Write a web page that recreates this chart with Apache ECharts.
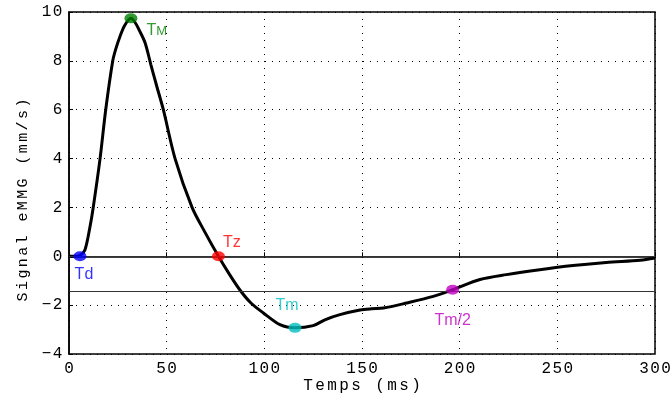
<!DOCTYPE html>
<html><head><meta charset="utf-8">
<script src="https://cdn.jsdelivr.net/npm/echarts@6/dist/echarts.min.js"></script>
<style>html,body{margin:0;padding:0;background:#fff}#c{width:672px;height:396px}</style>
</head><body><div id="c"></div>
<script>
var times = [0,3,5.6,8.2,10.8,12.4,15.9,18.8,22.4,24,26.1,28.5,31.7,34,36,38.9,41.9,44.9,48.3,54.3,63,69.5,76.5,82,87.6,93,99.5,108,115.7,125,131,138.7,149,155,161,172.9,186.5,196.4,210.4,224,241,258,275,292.4,300];
var signal = [0,0,0.03,0.27,1.23,2.0,4.0,6.0,8.0,8.5,9.0,9.45,9.74,9.55,9.25,8.75,7.85,6.97,6.0,4.0,2.0,1.0,0,-0.72,-1.39,-1.9,-2.32,-2.8,-2.93,-2.84,-2.6,-2.39,-2.2,-2.15,-2.12,-1.91,-1.64,-1.37,-0.95,-0.75,-0.55,-0.38,-0.25,-0.16,-0.07];
var keyNames = ['Td','TM','Tz','Tm','Tm/2'];
var keyTimes = [5.6,31.7,76.5,115.7,196.4];
var keyValues = [0,9.74,0,-2.93,-1.37];
var keyColors = ['#0000ff','#008000','#ff0000','#00bfbf','#bf00bf'];
var refLines = [0,-1.42];
var xTicks = [0,50,100,150,200,250,300];
var yTicks = [-4,-2,0,2,4,6,8,10];
var xName = 'Temps (ms)';
var yName = 'Signal eMMG (mm/s)';

function spaced(s){
  return s.split('').map(function(ch){return '{c|'+ch+'}';}).join('');
}

var labelPos = {
  'Td': {position:'bottom', offset:[4,0]},
  'TM': {position:'right', offset:[4,12]},
  'Tz': {position:'right', offset:[-7,-14]},
  'Tm': {position:'top', offset:[-8,-4]},
  'Tm/2': {position:'bottom', offset:[0,13]}
};

var curve = times.map(function(t,i){return [t, signal[i]];});
var keySeries = keyNames.map(function(n,i){
  var lp = labelPos[n];
  var txt = n === 'TM' ? '{a|T}{b|M}' : n;
  return {
    type:'scatter', name:n, z:5,
    data:[[keyTimes[i], keyValues[i]]],
    symbol:'circle', symbolSize:[13,10],
    itemStyle:{color:keyColors[i]},
    label:{show:true, formatter:txt, position:lp.position, offset:lp.offset,
      color:keyColors[i], fontFamily:'Liberation Sans', fontSize:16,
      rich:{a:{color:keyColors[i], fontFamily:'Liberation Sans', fontSize:16},
            b:{color:keyColors[i], fontFamily:'Liberation Sans', fontSize:13, verticalAlign:'bottom'}}}
  };
});

var tickRich = {c:{fontFamily:'Liberation Mono', fontSize:16, color:'#000', padding:[0,0.7,0,0.7]}};

var chart = echarts.init(document.getElementById('c'));
chart.setOption({
  animation:false,
  grid:{left:69, right:17, top:12, bottom:42, containLabel:false, outerBoundsMode:'none',
    show:true, borderColor:'#000', borderWidth:1.5, backgroundColor:'transparent'},
  xAxis:{type:'value', min:0, max:300, interval:50,
    name:spaced(xName), nameLocation:'middle', nameGap:24, nameMoveOverlap:false,
    nameTextStyle:{fontFamily:'Liberation Mono', fontSize:16, color:'#000',
      rich:{c:{fontFamily:'Liberation Mono', fontSize:16, color:'#000', padding:[0,1.2,0,1.2]}}},
    axisLine:{show:true, lineStyle:{color:'#000', width:1.5}},
    axisTick:{show:true, inside:true, length:4, lineStyle:{color:'#000'}},
    axisLabel:{fontFamily:'Liberation Mono', fontSize:16, color:'#000', margin:7, rich:tickRich,
      formatter:function(v){return xTicks.indexOf(v)>=0 ? spaced(String(v)) : '';}},
    splitLine:{show:true, lineStyle:{color:'#000', type:[1,6], width:1}}
  },
  yAxis:{type:'value', min:-4, max:10, interval:2,
    name:spaced(yName), nameLocation:'middle', nameGap:38, nameRotate:90, nameMoveOverlap:false,
    nameTextStyle:{fontFamily:'Liberation Mono', fontSize:15, color:'#000', padding:[0,34,0,0],
      rich:{c:{fontFamily:'Liberation Mono', fontSize:15, color:'#000', padding:[0,1.2,0,1.2]}}},
    axisLine:{show:true, lineStyle:{color:'#000', width:1.5}},
    axisTick:{show:true, inside:true, length:4, lineStyle:{color:'#000'}},
    axisLabel:{fontFamily:'Liberation Mono', fontSize:16, color:'#000', margin:6, rich:tickRich,
      formatter:function(v){return yTicks.indexOf(v)>=0 ? spaced(String(v).replace('-','\u2212')) : '';}},
    splitLine:{show:true, lineStyle:{color:'#000', type:[1,6], width:1}}
  },
  series:[{
    type:'line', data:curve, smooth:0.3, showSymbol:false, z:3,
    lineStyle:{color:'#000', width:3},
    markLine:{silent:true, symbol:'none', label:{show:false},
      lineStyle:{color:'#333', type:'solid', width:1},
      data: refLines.map(function(v){return {yAxis:v};})}
  }].concat(keySeries)
});
</script></body></html>
